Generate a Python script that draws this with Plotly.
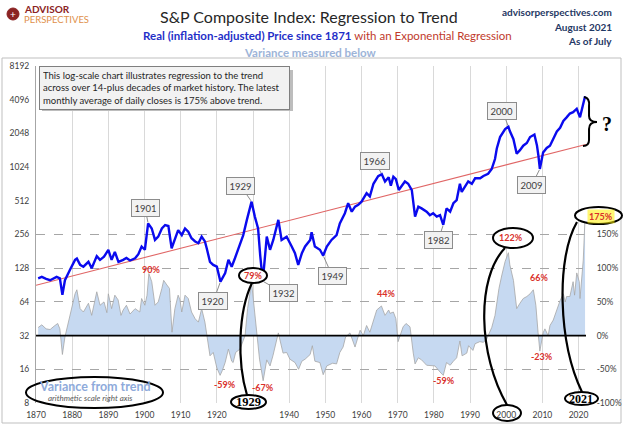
import numpy as np
import plotly.graph_objects as go

# ---------------- data ----------------
years = [1870.6, 1871.6, 1872.8, 1873.9, 1875.7, 1876.6, 1877.3, 1878.0, 1879.4, 1880.8,
         1881.3, 1882.2, 1883.1, 1884.5, 1885.4, 1886.8, 1887.7, 1888.8, 1890.0, 1890.9,
         1891.8, 1892.8, 1894.1, 1895.0, 1896.0, 1897.4, 1898.3, 1899.2, 1900.1, 1901.0,
         1902.0, 1902.9, 1903.8, 1904.8, 1905.7, 1906.6, 1907.5, 1908.4, 1909.3, 1910.3,
         1911.2, 1912.1, 1913.0, 1914.0, 1914.9, 1915.8, 1916.7, 1917.2, 1918.1, 1919.0,
         1920.0, 1921.0, 1922.3, 1923.2, 1924.1, 1925.0, 1925.9, 1927.3, 1928.3, 1929.6,
         1930.5, 1931.4, 1932.0, 1932.7, 1933.8, 1934.7, 1935.6, 1937.0, 1937.9, 1939.3,
         1940.7, 1941.6, 1942.5, 1943.5, 1944.4, 1945.8, 1946.2, 1947.1, 1948.5, 1949.4,
         1950.4, 1951.7, 1953.1, 1954.0, 1955.4, 1956.3, 1957.3, 1958.2, 1959.1, 1960.0,
         1961.4, 1962.3, 1963.3, 1964.6, 1965.6, 1966.5, 1967.5, 1968.1, 1968.8, 1969.5,
         1970.3, 1971.1, 1972.0, 1972.9, 1973.9, 1974.8, 1975.7, 1976.6, 1978.0, 1978.9,
         1979.8, 1980.8, 1981.7, 1982.6, 1983.5, 1984.5, 1985.4, 1986.3, 1987.2, 1987.7,
         1988.6, 1989.5, 1990.5, 1991.4, 1992.8, 1993.7, 1995.0, 1996.0, 1996.9, 1997.4,
         1998.3, 1999.7, 2000.6, 2001.0, 2002.0, 2002.9, 2003.8, 2004.7, 2005.7, 2006.6,
         2007.8, 2008.5, 2008.9, 2009.3, 2010.2, 2011.2, 2012.1, 2013.0, 2014.0, 2014.9,
         2015.8, 2016.7, 2017.6, 2018.5, 2019.5, 2020.4, 2021.3, 2021.8]
real_price = [104, 107, 103, 100, 107, 104, 74, 100, 124, 152,
              156, 137, 132, 146, 128, 164, 152, 162, 187, 152,
              179, 146, 152, 158, 150, 157, 171, 200, 187, 322,
              290, 229, 245, 290, 311, 305, 193, 237, 280, 253,
              290, 271, 237, 222, 214, 245, 222, 193, 146, 137,
              132, 97, 116, 152, 132, 157, 187, 253, 346, 503,
              370, 290, 165, 98, 245, 187, 229, 346, 229, 245,
              200, 174, 137, 174, 200, 229, 268, 200, 187, 166,
              200, 229, 253, 322, 397, 487, 409, 454, 471, 503,
              600, 560, 727, 850, 885, 762, 830, 700, 840, 800,
              640, 700, 762, 727, 639, 370, 454, 438, 409, 381,
              396, 370, 381, 312, 438, 409, 487, 520, 727, 615,
              683, 762, 727, 813, 813, 852, 894, 987, 1209, 1500,
              1900, 2236, 2350, 2150, 1820, 1350, 1450, 1590, 1680, 1900,
              2000, 1600, 1300, 985, 1380, 1520, 1590, 1820, 2130, 2300,
              2650, 2850, 3080, 3170, 3400, 2850, 3800, 4400]

# variance from trend (%), read from the shaded area against the right axis
var_years = [1870.6, 1871.6, 1872.8, 1873.9, 1875.0, 1876.0, 1876.6, 1877.3, 1878.0, 1879.0,
             1880.0, 1880.8, 1881.3, 1882.2, 1883.1, 1884.5, 1885.4, 1886.8, 1887.7, 1888.8,
             1889.6, 1890.0, 1890.9, 1891.8, 1892.7, 1893.5, 1894.1, 1895.0, 1896.0, 1897.4,
             1898.7, 1899.2, 1900.1, 1900.7, 1901.2, 1902.0, 1902.9, 1903.8, 1904.8, 1905.3,
             1906.2, 1906.9, 1907.6, 1908.4, 1909.3, 1909.8, 1910.3, 1911.2, 1912.1, 1913.0,
             1914.0, 1914.9, 1915.8, 1916.7, 1917.2, 1918.1, 1919.0, 1920.0, 1920.9, 1921.5,
             1922.3, 1923.2, 1924.1, 1924.5, 1925.2, 1926.4, 1927.8, 1928.5, 1929.6, 1930.5,
             1931.1, 1931.8, 1932.8, 1933.8, 1934.7, 1935.5, 1937.0, 1938.3, 1939.3, 1940.2,
             1941.6, 1942.6, 1943.5, 1944.4, 1945.8, 1946.4, 1947.1, 1948.5, 1949.4, 1950.4,
             1952.0, 1953.1, 1954.0, 1954.9, 1955.6, 1956.8, 1958.2, 1959.6, 1960.5, 1961.4,
             1962.3, 1963.3, 1964.2, 1965.5, 1966.5, 1967.5, 1967.9, 1968.8, 1969.5, 1970.1,
             1971.5, 1972.3, 1973.4, 1974.3, 1974.8, 1975.7, 1976.6, 1978.0, 1979.0, 1980.3,
             1981.7, 1982.6, 1983.5, 1984.5, 1985.4, 1986.3, 1987.2, 1987.8, 1989.1, 1989.6,
             1990.8, 1991.4, 1992.7, 1993.7, 1994.6, 1995.0, 1996.0, 1996.9, 1998.0, 1998.8,
             1999.7, 2000.6, 2001.0, 2002.0, 2002.9, 2003.8, 2004.7, 2005.7, 2006.6, 2007.5,
             2008.2, 2008.8, 2009.3, 2010.2, 2010.7, 2011.6, 2012.1, 2013.0, 2014.0, 2014.9,
             2015.8, 2016.3, 2016.7, 2017.6, 2018.5, 2018.9, 2019.5, 2020.2, 2020.4, 2021.3,
             2021.8]
variance_pct = [12, 16, 10, 9, 14, 18, 10, -28, -2, 20,
                45, 62, 68, 40, 35, 48, 30, 65, 45, 50,
                34, 62, 40, 60, 53, 30, 38, 45, 32, 40,
                35, 55, 45, 60, 92, 80, 45, 50, 70, 82,
                75, 70, 5, 40, 60, 53, 35, 60, 55, 35,
                25, 20, 40, 20, 2, -30, -25, -48, -59, -52,
                -40, -20, -38, -40, -25, -20, 0, 40, 79, 30,
                0, -35, -67, -36, -45, -30, 4, -26, -25, -35,
                -40, -50, -38, -35, -28, -15, -38, -40, -58, -45,
                -41, -42, -25, -17, -2, 4, -17, 8, 0, 15,
                5, 23, 38, 44, 30, 38, 33, 35, 25, -9,
                13, 18, 13, -26, -42, -33, -36, -44, -44, -45,
                -54, -59, -40, -44, -38, -33, -8, -30, -26, -15,
                -22, -12, -9, -10, -5, 0, 12, 30, 70, 90,
                110, 123, 105, 82, 40, 48, 55, 58, 62, 68,
                45, 5, -23, 4, 10, 0, 15, 23, 40, 52,
                62, 50, 58, 58, 80, 60, 93, 80, 55, 112,
                175]

trend_years = [1870, 2022]
trend_values = [90, 1630]

left_ticks = [8, 16, 32, 64, 128, 256, 512, 1024, 2048, 4096, 8192]
right_ticks = [-100, -50, 0, 50, 100, 150]
x_ticks = list(range(1870, 2021, 10))
x_hidden = [1930]  # covered by the hand-drawn "1929" ellipse

callouts = [("1901", 1901.0, -3, -15), ("1929", 1929.6, -11, -16), ("1920", 1921.0, -7, 19),
            ("1932", 1932.7, 21, 12), ("1949", 1949.4, 9, 20), ("1966", 1965.6, -7, -13),
            ("1982", 1982.6, -5, 15), ("2000", 2000.6, -6, -16), ("2009", 2009.3, -8, 16)]

pct_labels = [("90%", 1901.7, 98), ("79%", 1930.0, 89), ("-59%", 1922.2, -73), ("-67%", 1932.7, -77),
              ("44%", 1966.9, 62), ("-59%", 1982.7, -67), ("122%", 2001.4, 146), ("66%", 2009.1, 86),
              ("-23%", 2009.9, -31)]

# plot-area geometry helpers (pixels of the 624x426 canvas -> paper coords)
L, R, T, B = 36, 586, 66, 403
def PX(x):
    return (x - L) / (R - L)
def PY(y):
    return (B - y) / (B - T)

FONT = "Lato"
fig = go.Figure()

fig.add_trace(go.Scatter(x=var_years, y=variance_pct, yaxis="y", mode="lines",
                         line=dict(color="#a6a6a6", width=0.8),
                         fill="tozeroy", fillcolor="#c6d9f1", hoverinfo="skip"))
fig.add_trace(go.Scatter(x=[var_years[-1]], y=[variance_pct[-1]], yaxis="y", mode="markers",
                         marker=dict(color="#7030a0", size=3), hoverinfo="skip"))
fig.add_trace(go.Scatter(x=trend_years, y=trend_values, yaxis="y2", mode="lines",
                         line=dict(color="#e06666", width=1.1), hoverinfo="skip"))
fig.add_trace(go.Scatter(x=years, y=real_price, yaxis="y2", mode="lines",
                         line=dict(color="#0a0aee", width=2.4), hoverinfo="skip"))

shapes = []
shapes.append(dict(type="rect", xref="paper", yref="paper", x0=PX(2), x1=PX(621), y0=PY(423), y1=PY(58),
                   line=dict(color="#bfbfbf", width=1), layer="below"))
shapes.append(dict(type="line", xref="paper", yref="y", x0=0, x1=1, y0=0, y1=0,
                   line=dict(color="black", width=1.6), layer="above"))

def ellipse(x0, y0, x1, y1, fill="rgba(0,0,0,0)", w=2):
    shapes.append(dict(type="circle", xref="paper", yref="paper", x0=PX(x0), x1=PX(x1),
                       y0=PY(y1), y1=PY(y0), line=dict(color="black", width=w),
                       fillcolor=fill, layer="above"))

def path(pts, w=2.2):
    (a, b), rest = pts[0], pts[1:]
    d = "M %.4f,%.4f C " % (PX(a), PY(b)) + " ".join("%.4f,%.4f" % (PX(x), PY(y)) for x, y in rest)
    shapes.append(dict(type="path", xref="paper", yref="paper", path=d,
                       line=dict(color="black", width=w), layer="above"))

ellipse(239, 268, 267, 283, fill="white")
ellipse(231, 395, 266, 409, fill="white")
ellipse(26, 377, 163, 408)
ellipse(493, 228, 533, 248, fill="white")
ellipse(493, 405, 521, 421)
ellipse(575, 207, 622, 224, fill="white")
ellipse(565, 392, 598, 405, fill="white")
path([(252, 283), (238, 312), (237, 362), (247, 395)])
path([(505, 248), (476, 278), (478, 355), (507, 405)])
path([(577, 222), (556, 258), (558, 342), (582, 392)])
brace = ("M %.4f,%.4f Q %.4f,%.4f %.4f,%.4f L %.4f,%.4f Q %.4f,%.4f %.4f,%.4f "
         "Q %.4f,%.4f %.4f,%.4f L %.4f,%.4f Q %.4f,%.4f %.4f,%.4f") % (
    PX(584), PY(97), PX(590), PY(98), PX(589), PY(106), PX(589), PY(116),
    PX(589), PY(122), PX(597), PY(122), PX(589), PY(122), PX(589), PY(129),
    PX(589), PY(140), PX(589), PY(146), PX(583), PY(146))
shapes.append(dict(type="path", xref="paper", yref="paper", path=brace,
                   line=dict(color="black", width=2), layer="above"))
shapes.append(dict(type="rect", xref="paper", yref="paper", x0=PX(42), x1=PX(293), y0=PY(111), y1=PY(70),
                   fillcolor="#bdbdbd", line=dict(width=0), layer="above"))
shapes.append(dict(type="circle", xref="paper", yref="paper", x0=PX(7), x1=PX(19), y0=PY(20), y1=PY(8),
                   fillcolor="#8b2323", line=dict(color="#8b2323", width=1), layer="above"))

ann = []
def txt(x, y, s, size, color="#262626", family=FONT, xanchor="center", **kw):
    ann.append(dict(xref="paper", yref="paper", x=PX(x), y=PY(y), text=s, showarrow=False,
                    xanchor=xanchor, yanchor="middle", font=dict(size=size, color=color, family=family), **kw))

txt(309, 17, "S&P Composite Index: Regression to Trend", 16, "#262626")
txt(327, 35, "<b>Real (inflation-adjusted) Price since 1871</b> <span style='color:#c0392b'>with an Exponential Regression</span>",
    11.5, "#1f2fc8")
txt(310, 53, "<b>Variance measured below</b>", 11.5, "#9db4d8")
txt(614, 12, "<b>advisorperspectives.com</b>", 10, "#1f3864", xanchor="right")
txt(614, 27, "<b>August 2021</b>", 10, "#1f3864", xanchor="right")
txt(614, 41, "<b>As of July</b>", 10, "#1f3864", xanchor="right")
txt(13, 14, "+", 10, "white")
txt(22, 9, "<b>ADVISOR</b>", 10, "#8b2323", xanchor="left")
txt(22, 20, "PERSPECTIVES", 9.5, "#e0904a", xanchor="left")

ann.append(dict(xref="paper", yref="paper", x=PX(39), y=PY(66), xanchor="left", yanchor="top",
                text="This log-scale chart illustrates regression to the trend<br>"
                     "across over 14-plus decades of market history. The latest<br>"
                     "monthly average of daily closes is 175% above trend.",
                showarrow=False, align="left", bgcolor="#f2f2f2", bordercolor="#7f7f7f",
                borderwidth=1, borderpad=3, width=243,
                font=dict(size=9.5, color="#262626", family=FONT)))

for lab, yv, dx, dy in callouts:
    val = float(np.interp(yv, years, real_price))
    ann.append(dict(x=yv, y=np.log10(val), xref="x", yref="y2", text=lab, showarrow=True,
                    ax=dx * 1.0, ay=dy * 1.0, arrowhead=0, arrowwidth=1, arrowcolor="#8c8c8c",
                    standoff=1, bgcolor="#f2f2f2", bordercolor="#8c8c8c", borderwidth=1, borderpad=2.5,
                    font=dict(size=9.5, color="#404040", family=FONT)))

for lab, xv, yv in pct_labels:
    ann.append(dict(x=xv, y=yv, xref="x", yref="y", text="<b>%s</b>" % lab, showarrow=False,
                    font=dict(size=9, color="#d9302a", family=FONT)))
txt(601, 216, "<b>175%</b>", 9, "#d9302a", bgcolor="rgba(255,240,0,0.55)")

txt(248, 402, "<b>1929</b>", 12.5, "black", family="Liberation Serif")
txt(581, 398.5, "<b>2021</b>", 12, "black", family="Liberation Serif")
txt(95, 386, "<b>Variance from trend</b>", 12.5, "#8eaadb")
txt(90, 398, "<i>arithmetic scale right axis</i>", 8, "#595959")
txt(607, 124, "<b>?</b>", 20, "black", family="Liberation Serif")

fig.update_layout(
    width=624, height=426, margin=dict(l=L, r=624 - R, t=T, b=426 - B, autoexpand=False),
    paper_bgcolor="white", plot_bgcolor="white", showlegend=False,
    font=dict(family=FONT, size=8.5, color="#404040"),
    xaxis=dict(range=[1870, 2022.06], tickvals=x_ticks, automargin=False,
               ticktext=["" if v in x_hidden else str(v) for v in x_ticks],
               showgrid=True, gridcolor="#d9d9d9",
               gridwidth=1, zeroline=False, showline=False, ticks="outside", ticklen=4,
               tickcolor="rgba(0,0,0,0)", tickfont=dict(size=8.5)),
    yaxis=dict(side="right", range=[-100, 400], tickvals=right_ticks, automargin=False,
               ticktext=["%d%%" % v for v in right_ticks], showgrid=True, gridcolor="#a6a6a6",
               griddash="dash", gridwidth=1, zeroline=False, ticks="outside", ticklen=8,
               tickcolor="rgba(0,0,0,0)", tickfont=dict(size=8.5)),
    yaxis2=dict(type="log", side="left", overlaying="y", range=[np.log10(8), np.log10(8192)],
                automargin=False,
                tickvals=left_ticks, ticktext=[str(v) for v in left_ticks], showgrid=False,
                zeroline=False, showline=True, linecolor="#a6a6a6", ticks="outside", ticklen=4,
                tickcolor="rgba(0,0,0,0)", tickfont=dict(size=8.5)),
    shapes=shapes, annotations=ann,
)

fig.write_html("out.html")
